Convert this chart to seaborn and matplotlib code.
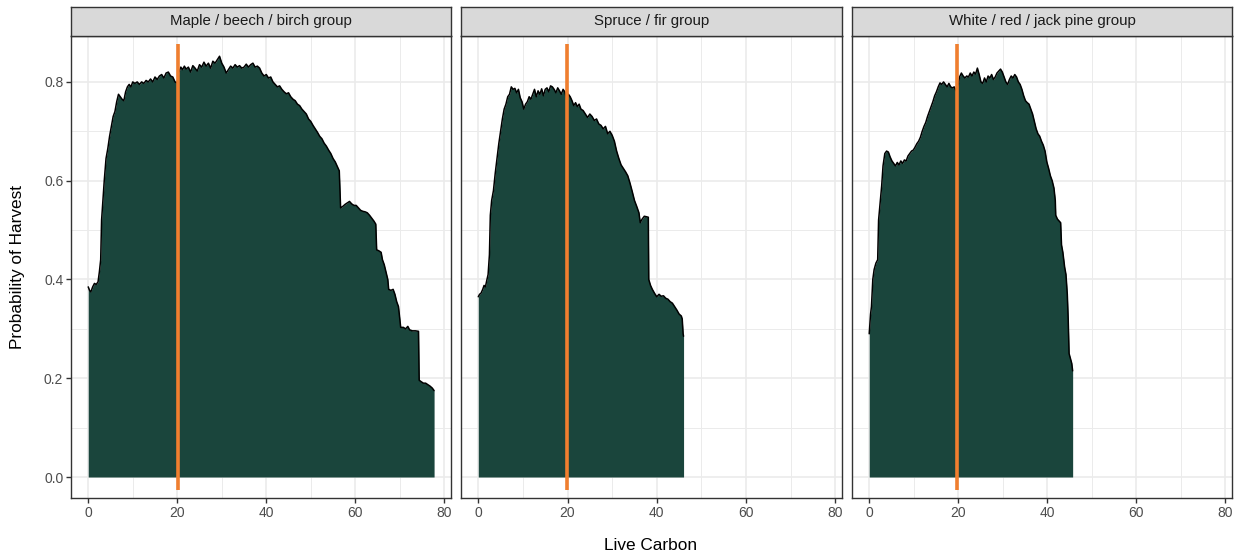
import numpy as np
import pandas as pd
import matplotlib
matplotlib.use("Agg")
import matplotlib.pyplot as plt
import seaborn as sns

# ---------------- data ----------------
groups = ["Maple / beech / birch group", "Spruce / fir group", "White / red / jack pine group"]

maple_x = [0, 0.3, 0.6, 1.0, 1.4, 1.8, 2.2, 2.5, 2.8, 3.0, 3.3, 3.6, 4.0, 4.4, 4.8, 5.2, 5.6, 6.0, 6.4, 6.8,
           7.2, 7.6, 8.0, 8.4, 8.8, 9.2, 9.6, 10.0, 10.5, 11.0, 11.5, 12.0, 12.5, 13.0, 13.5, 14.0, 14.5, 15.0,
           15.5, 16.0, 16.5, 17.0, 17.5, 18.0, 18.5, 19.0, 19.5, 20.0, 20.4, 20.8, 21.2, 21.6, 22.0, 22.5, 23.0,
           23.5, 24.0, 24.5, 25.0, 25.5, 26.0, 26.5, 27.0, 27.5, 28.0, 28.5, 29.0, 29.5, 30.0, 30.5, 31.0, 31.5,
           32.0, 32.5, 33.0, 33.5, 34.0, 34.5, 35.0, 35.5, 36.0, 36.5, 37.0, 37.5, 38.0, 38.5, 39.0, 39.5, 40.0,
           40.5, 41.0, 41.5, 42.0, 42.5, 43.0, 43.5, 44.0, 44.5, 45.0, 45.5, 46.0, 46.5, 47.0, 47.5, 48.0, 48.5,
           49.0, 49.5, 50.0, 50.5, 51.0, 51.5, 52.0, 52.5, 53.0, 53.5, 54.0, 54.5, 55.0, 55.5, 56.0, 56.4, 56.7,
           57.2, 57.7, 58.2, 58.7, 59.2, 59.7, 60.2, 60.7, 61.2, 61.7, 62.2, 62.7, 63.2, 63.7, 64.2, 64.6, 64.8,
           65.3, 65.8, 66.1, 66.5, 66.9, 67.3, 67.5, 68.0, 68.5, 68.9, 69.3, 69.7, 70.0, 70.2, 70.8, 71.3, 71.8,
           72.2, 72.8, 73.5, 74.2, 74.35, 74.8, 75.3, 75.8, 76.3, 76.8, 77.3, 77.7]
maple_y = [0.385, 0.378, 0.375, 0.385, 0.392, 0.39, 0.395, 0.415, 0.44, 0.52, 0.56, 0.60, 0.645, 0.665, 0.69,
           0.71, 0.73, 0.74, 0.76, 0.775, 0.77, 0.765, 0.762, 0.78, 0.79, 0.795, 0.79, 0.80, 0.797, 0.80, 0.795,
           0.80, 0.797, 0.803, 0.80, 0.806, 0.80, 0.81, 0.805, 0.812, 0.815, 0.808, 0.818, 0.82, 0.812, 0.81,
           0.80, 0.798, 0.82, 0.83, 0.825, 0.832, 0.826, 0.83, 0.82, 0.833, 0.828, 0.822, 0.835, 0.83, 0.84,
           0.832, 0.838, 0.828, 0.842, 0.838, 0.845, 0.852, 0.838, 0.83, 0.818, 0.825, 0.832, 0.828, 0.835,
           0.83, 0.833, 0.828, 0.83, 0.836, 0.83, 0.835, 0.838, 0.83, 0.832, 0.828, 0.818, 0.812, 0.815, 0.808,
           0.81, 0.80, 0.795, 0.79, 0.792, 0.785, 0.78, 0.776, 0.778, 0.77, 0.765, 0.762, 0.755, 0.752, 0.745,
           0.74, 0.735, 0.725, 0.72, 0.712, 0.705, 0.698, 0.69, 0.685, 0.676, 0.67, 0.662, 0.655, 0.645, 0.638,
           0.628, 0.62, 0.545, 0.548, 0.552, 0.555, 0.558, 0.553, 0.55, 0.55, 0.545, 0.54, 0.538, 0.537, 0.535,
           0.53, 0.524, 0.518, 0.512, 0.46, 0.458, 0.455, 0.44, 0.43, 0.415, 0.40, 0.38, 0.378, 0.38, 0.37,
           0.355, 0.345, 0.32, 0.303, 0.303, 0.30, 0.305, 0.298, 0.296, 0.296, 0.295, 0.196, 0.193, 0.19, 0.19,
           0.187, 0.184, 0.18, 0.175]

spruce_x = [0, 0.3, 0.6, 1.0, 1.3, 1.6, 1.9, 2.2, 2.5, 2.7, 3.0, 3.4, 3.8, 4.2, 4.6, 5.0, 5.4, 5.8, 6.2, 6.6,
            7.0, 7.4, 7.8, 8.2, 8.6, 9.0, 9.4, 9.8, 10.2, 10.6, 11.0, 11.4, 11.8, 12.2, 12.6, 13.0, 13.4, 13.8,
            14.2, 14.6, 15.0, 15.4, 15.8, 16.2, 16.6, 17.0, 17.4, 17.8, 18.2, 18.6, 19.0, 19.4, 19.8, 20.2, 20.6,
            21.0, 21.4, 21.8, 22.2, 22.6, 23.0, 23.5, 24.0, 24.5, 25.0, 25.5, 26.0, 26.5, 27.0, 27.5, 28.0, 28.5,
            29.0, 29.5, 30.0, 30.5, 31.0, 31.5, 32.0, 32.5, 33.0, 33.5, 34.0, 34.5, 35.0, 35.5, 36.0, 36.3, 36.7,
            37.2, 37.7, 38.1, 38.2, 38.6, 39.0, 39.5, 40.0, 40.5, 41.0, 41.5, 42.0, 42.5, 43.0, 43.5, 44.0, 44.5,
            45.0, 45.5, 45.7, 45.9, 46.0]
spruce_y = [0.365, 0.37, 0.372, 0.38, 0.388, 0.385, 0.398, 0.41, 0.45, 0.53, 0.56, 0.58, 0.615, 0.645, 0.675,
            0.70, 0.725, 0.745, 0.755, 0.77, 0.775, 0.79, 0.785, 0.787, 0.778, 0.785, 0.768, 0.76, 0.745, 0.755,
            0.76, 0.77, 0.765, 0.775, 0.785, 0.77, 0.782, 0.775, 0.786, 0.772, 0.785, 0.788, 0.78, 0.792, 0.79,
            0.785, 0.778, 0.788, 0.782, 0.775, 0.785, 0.78, 0.765, 0.775, 0.77, 0.762, 0.752, 0.758, 0.75, 0.755,
            0.745, 0.742, 0.735, 0.728, 0.735, 0.73, 0.722, 0.725, 0.715, 0.712, 0.705, 0.71, 0.695, 0.70, 0.692,
            0.68, 0.66, 0.645, 0.632, 0.625, 0.618, 0.61, 0.595, 0.578, 0.56, 0.548, 0.535, 0.515, 0.522, 0.528,
            0.527, 0.526, 0.40, 0.388, 0.38, 0.372, 0.365, 0.37, 0.366, 0.367, 0.362, 0.36, 0.355, 0.352, 0.345,
            0.338, 0.33, 0.326, 0.32, 0.29, 0.285]

pine_x = [0, 0.3, 0.5, 0.8, 1.1, 1.5, 1.9, 2.1, 2.5, 2.8, 3.1, 3.5, 3.9, 4.3, 4.7, 5.1, 5.5, 5.9, 6.3, 6.7,
          7.1, 7.5, 7.9, 8.3, 8.7, 9.1, 9.5, 9.9, 10.3, 10.7, 11.1, 11.5, 11.9, 12.3, 12.7, 13.1, 13.5, 13.9,
          14.3, 14.7, 15.1, 15.5, 15.9, 16.3, 16.7, 17.1, 17.5, 17.9, 18.3, 18.7, 19.1, 19.5, 19.9, 20.3, 20.7,
          21.1, 21.5, 21.9, 22.3, 22.7, 23.1, 23.5, 23.9, 24.3, 24.7, 25.1, 25.5, 25.9, 26.3, 26.7, 27.1, 27.5,
          27.9, 28.3, 28.7, 29.1, 29.5, 29.9, 30.3, 30.7, 31.1, 31.5, 31.9, 32.3, 32.7, 33.1, 33.5, 33.9, 34.3,
          34.7, 35.1, 35.5, 35.9, 36.3, 36.7, 37.1, 37.5, 37.9, 38.3, 38.7, 39.1, 39.5, 39.9, 40.3, 40.7, 41.1,
          41.5, 41.8, 41.9, 42.3, 42.7, 43.0, 43.2, 43.5, 43.9, 44.2, 44.5, 44.7, 44.9, 45.2, 45.5, 45.7]
pine_y = [0.29, 0.33, 0.345, 0.40, 0.42, 0.433, 0.44, 0.52, 0.56, 0.59, 0.63, 0.655, 0.66, 0.658, 0.648, 0.64,
          0.635, 0.63, 0.637, 0.632, 0.64, 0.635, 0.642, 0.64, 0.65, 0.655, 0.66, 0.662, 0.668, 0.675, 0.68,
          0.688, 0.70, 0.71, 0.718, 0.73, 0.74, 0.75, 0.76, 0.772, 0.78, 0.79, 0.798, 0.795, 0.80, 0.795, 0.79,
          0.797, 0.79, 0.788, 0.79, 0.782, 0.79, 0.81, 0.818, 0.812, 0.808, 0.812, 0.81, 0.818, 0.812, 0.82,
          0.816, 0.828, 0.815, 0.80, 0.797, 0.808, 0.80, 0.812, 0.808, 0.815, 0.805, 0.81, 0.818, 0.822, 0.826,
          0.82, 0.81, 0.80, 0.795, 0.805, 0.812, 0.808, 0.815, 0.81, 0.80, 0.795, 0.785, 0.772, 0.762, 0.758,
          0.755, 0.745, 0.735, 0.72, 0.705, 0.695, 0.69, 0.68, 0.672, 0.66, 0.638, 0.625, 0.61, 0.60, 0.585,
          0.56, 0.53, 0.522, 0.518, 0.515, 0.47, 0.455, 0.425, 0.41, 0.37, 0.32, 0.25, 0.24, 0.23, 0.215]

cutoff_x = [20.2, 19.8, 19.8]          # orange reference line per group
cutoff_ymin, cutoff_ymax = -0.026, 0.876

x_ticks = [0, 20, 40, 60, 80]
y_ticks = [0.0, 0.2, 0.4, 0.6, 0.8]
y_tick_labels = ["0.0", "0.2", "0.4", "0.6", "0.8"]

# ---------------- build frame ----------------
frames = []
for g, xs, ys in zip(groups, [maple_x, spruce_x, pine_x], [maple_y, spruce_y, pine_y]):
    frames.append(pd.DataFrame({"group": g, "carbon": xs, "prob": ys}))
df = pd.concat(frames, ignore_index=True)

# ---------------- style ----------------
sns.set_theme(style="white")
plt.rcParams["font.family"] = ["Liberation Sans", "DejaVu Sans"]

W, H = 1237, 556
fig = plt.figure(figsize=(W / 100, H / 100), dpi=100)

fill_col = "#1A453C"
orange = "#F07F2F"
grid_col = "#EBEBEB"
border_col = "#333333"

panels_px = [(71, 451), (461, 842), (852, 1232)]
top_px, bot_px, strip_top_px = 36, 498, 7

for i, (g, (l, r)) in enumerate(zip(groups, panels_px)):
    ax = fig.add_axes([l / W, 1 - bot_px / H, (r - l) / W, (bot_px - top_px) / H])
    sub = df[df["group"] == g]
    ax.fill_between(sub["carbon"], 0, sub["prob"], color=fill_col, linewidth=0, zorder=2)
    sns.lineplot(data=sub, x="carbon", y="prob", ax=ax, color="black", linewidth=1.1,
                 estimator=None, sort=False, zorder=3)
    ax.vlines(cutoff_x[i], cutoff_ymin, cutoff_ymax, color=orange, linewidth=2.6, zorder=4)

    ax.set_xlim(-3.87, 81.5)
    ax.set_ylim(-0.0425, 0.893)
    ax.set_xticks(x_ticks)
    ax.set_xticks([10, 30, 50, 70], minor=True)
    ax.set_yticks(y_ticks)
    ax.set_yticks([0.1, 0.3, 0.5, 0.7], minor=True)
    ax.grid(True, which="major", color=grid_col, linewidth=1.2, zorder=0)
    ax.grid(True, which="minor", color=grid_col, linewidth=0.7, zorder=0)
    ax.set_axisbelow(True)
    ax.tick_params(axis="both", which="major", length=3.5, width=1.0, color=border_col,
                   labelsize=10, labelcolor="#4D4D4D", pad=2, bottom=True, left=True)
    ax.tick_params(axis="both", which="minor", length=0)
    if i == 0:
        ax.set_yticklabels(y_tick_labels)
    else:
        ax.set_yticklabels([])
        ax.tick_params(axis="y", which="major", length=0)
    ax.set_xlabel("")
    ax.set_ylabel("")
    for s in ax.spines.values():
        s.set_color(border_col)
        s.set_linewidth(1.0)

    # strip
    sax = fig.add_axes([l / W, 1 - top_px / H, (r - l) / W, (top_px - strip_top_px) / H])
    sax.set_facecolor("#D9D9D9")
    sax.set_xticks([])
    sax.set_yticks([])
    for s in sax.spines.values():
        s.set_color(border_col)
        s.set_linewidth(1.0)
    sax.text(0.5, 0.5, g, ha="center", va="center", fontsize=10.8, color="#1A1A1A",
             transform=sax.transAxes)

fig.text(651 / W, 1 - 545 / H, "Live Carbon", ha="center", va="center", fontsize=12.4, color="#000000")
fig.text(18 / W, 1 - 267 / H, "Probability of Harvest", ha="center", va="center", rotation=90,
         fontsize=12.4, color="#000000")

fig.savefig("out.png", dpi=100, facecolor="white")
